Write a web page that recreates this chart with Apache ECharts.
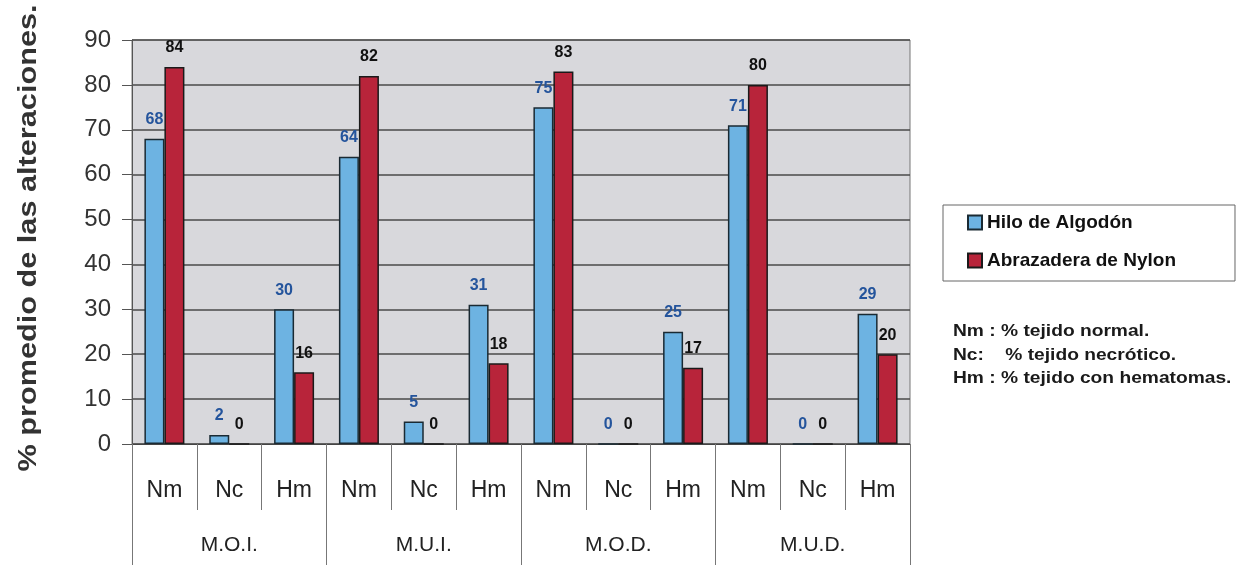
<!DOCTYPE html>
<html><head><meta charset="utf-8">
<script src="https://cdn.jsdelivr.net/npm/echarts@6/dist/echarts.min.js"></script>
<style>html,body{margin:0;padding:0;background:#fff}#c{width:1249px;height:565px}</style>
</head><body><div id="c"></div>
<script>
const subCategories = ['Nm','Nc','Hm','Nm','Nc','Hm','Nm','Nc','Hm','Nm','Nc','Hm'];
const groups = ['M.O.I.','M.U.I.','M.O.D.','M.U.D.'];
const hiloAlgodon = [68,2,30,64,5,31,75,0,25,71,0,29];
const abrazaderaNylon = [84,0,16,82,0,18,83,0,17,80,0,20];
const yTicks = {min:0, max:90, interval:10};
const yTitle = '% promedio de las alteraciones.';
const notes = ['Nm : % tejido normal.','Nc:    % tejido necrótico.','Hm : % tejido con hematomas.'];

const chart = echarts.init(document.getElementById('c'));
const font = 'Liberation Sans, Arial, sans-serif';
chart.setOption({
  animation:false,
  textStyle:{fontFamily:font},
  grid:{left:132,right:339,top:40,bottom:121,show:true,backgroundColor:'#d8d8dc',borderColor:'#777',borderWidth:1},
  legend:{
    orient:'vertical',left:943,top:205,
    padding:[8,59,11,24],itemGap:19,
    borderColor:'#666',borderWidth:1,
    itemWidth:14,itemHeight:14,icon:'rect',
    textStyle:{fontSize:19,fontWeight:'bold',color:'#111',fontFamily:font},
    data:['Hilo de Algodón','Abrazadera de Nylon']
  },
  xAxis:[
    {type:'category',data:subCategories,position:'bottom',
     axisLine:{lineStyle:{color:'#444',width:1}},
     axisTick:{show:true,interval:0,length:66,lineStyle:{color:'#777'}},
     axisLabel:{interval:0,margin:35,fontSize:23,color:'#222',fontFamily:font},
     splitLine:{show:false}},
    {type:'category',data:groups,position:'bottom',
     axisLine:{show:false},
     axisTick:{show:true,interval:0,length:125,lineStyle:{color:'#777'}},
     axisLabel:{interval:0,margin:91,fontSize:21,color:'#222',fontFamily:font},
     splitLine:{show:false}}
  ],
  yAxis:{type:'value',min:yTicks.min,max:yTicks.max,interval:yTicks.interval,
    axisLine:{show:true,lineStyle:{color:'#555'}},
    axisTick:{show:true,length:10,lineStyle:{color:'#555'}},
    axisLabel:{fontSize:24,color:'#333',margin:21,fontFamily:font},
    splitLine:{lineStyle:{color:'#4a4a4a',width:1.5}}
  },
  graphic: [
    {type:'text',x:29,y:238,rotation:Math.PI/2,scaleX:1.18,
     style:{text:yTitle,fontSize:26,fontWeight:'bold',fill:'#333',fontFamily:font,align:'center',verticalAlign:'middle'}}
  ].concat(notes.map((t,i)=>({type:'text',x:953,y:[332,356,379][i],scaleX:1.2,
    style:{text:t,fontSize:16,fontWeight:'bold',fill:'#1a1a1a',fontFamily:font,verticalAlign:'middle'}}))),
  series:[
    {name:'Hilo de Algodón',type:'bar',data:hiloAlgodon,barWidth:20,barGap:'0%',
     itemStyle:{color:'#6db3e2',borderColor:'#1a2a33',borderWidth:1.5},
     label:{show:true,position:'top',distance:11,fontSize:16,fontWeight:'bold',color:'#24549c',fontFamily:font}},
    {name:'Abrazadera de Nylon',type:'bar',data:abrazaderaNylon,barWidth:20,
     itemStyle:{color:'#b8243a',borderColor:'#1a1a1a',borderWidth:1.5},
     label:{show:true,position:'top',distance:11,fontSize:16,fontWeight:'bold',color:'#111',fontFamily:font}}
  ]
});
</script></body></html>
